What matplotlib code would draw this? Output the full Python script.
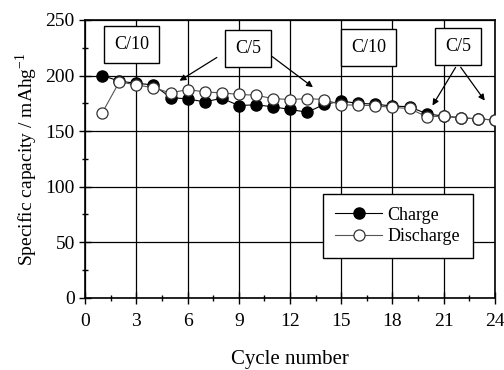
import matplotlib
matplotlib.use('Agg')
import matplotlib.pyplot as plt
from matplotlib.ticker import MultipleLocator

plt.rcParams['font.family'] = ['Liberation Serif', 'DejaVu Serif']

cycles = list(range(1, 25))
charge = [200, 195, 193, 191.6, 180.2, 179, 176.3, 179.6, 173, 173.7, 171.9, 169.5,
          167, 174, 177, 175, 174.3, 172.5, 172, 165.6, 163.5, 162, 161, 160]
discharge = [166.5, 194.3, 191.6, 189, 184.4, 187.4, 185.3, 184.4, 183, 182.3, 179.3, 178.4,
             179.3, 178.4, 173.7, 173.4, 172.8, 171.3, 170.4, 162.9, 163.5, 162, 161, 160]

fig = plt.figure(figsize=(5.04, 3.70), dpi=100)
ax = fig.add_axes([0.169, 0.195, 0.813, 0.751])

ax.plot(cycles, charge, '-o', color='black', lw=0.8, ms=8,
        mfc='black', mec='black', label='Charge', zorder=3)
ax.plot(cycles, discharge, '-o', color='#555555', lw=0.8, ms=8,
        mfc='white', mec='#333333', mew=0.9, label='Discharge', zorder=4)

ax.set_xlim(0, 24)
ax.set_ylim(0, 250)
ax.xaxis.set_major_locator(MultipleLocator(3))
ax.xaxis.set_minor_locator(MultipleLocator(1.5))
ax.yaxis.set_major_locator(MultipleLocator(50))
ax.yaxis.set_minor_locator(MultipleLocator(25))
ax.tick_params(which='major', direction='inout', length=8, width=1, labelsize=14, color='black')
ax.tick_params(axis='x', which='major', pad=7)
ax.tick_params(which='minor', direction='inout', length=5, width=1)
ax.grid(True, which='major', color='black', lw=0.9)
for s in ax.spines.values():
    s.set_linewidth(1.2)

ax.set_xlabel('Cycle number', fontsize=15, labelpad=14)
ax.set_ylabel('Specific capacity / mAhg$^{\\mathregular{-1}}$', fontsize=14, labelpad=4)

box = dict(boxstyle='square,pad=0.55', fc='white', ec='black', lw=1)
ax.text(2.7, 228, 'C/10', fontsize=13, ha='center', va='center', bbox=box, zorder=6)
ax.text(9.55, 224, 'C/5', fontsize=13, ha='center', va='center', bbox=box, zorder=6)
ax.text(16.6, 225, 'C/10', fontsize=13, ha='center', va='center', bbox=box, zorder=6)
ax.text(21.84, 226, 'C/5', fontsize=13, ha='center', va='center', bbox=box, zorder=6)

arrow = dict(arrowstyle='-|>', color='black', lw=0.9, mutation_scale=9)
ax.annotate('', xy=(5.39, 194), xytext=(7.85, 217.6), arrowprops=arrow, zorder=6)
ax.annotate('', xy=(13.47, 188), xytext=(10.83, 218.5), arrowprops=arrow, zorder=6)
ax.annotate('', xy=(20.26, 170.9), xytext=(21.78, 209.5), arrowprops=arrow, zorder=6)
ax.annotate('', xy=(23.5, 175.4), xytext=(21.9, 209.5), arrowprops=arrow, zorder=6)

leg = ax.legend(loc='upper right', bbox_to_anchor=(0.946, 0.374), borderaxespad=0,
                fontsize=13, frameon=True, fancybox=False, edgecolor='black', framealpha=1,
                handlelength=2.6, borderpad=0.7, labelspacing=0.25, handletextpad=0.3)
leg.get_frame().set_linewidth(1)
leg.set_zorder(7)

fig.savefig('out.png', dpi=100)
